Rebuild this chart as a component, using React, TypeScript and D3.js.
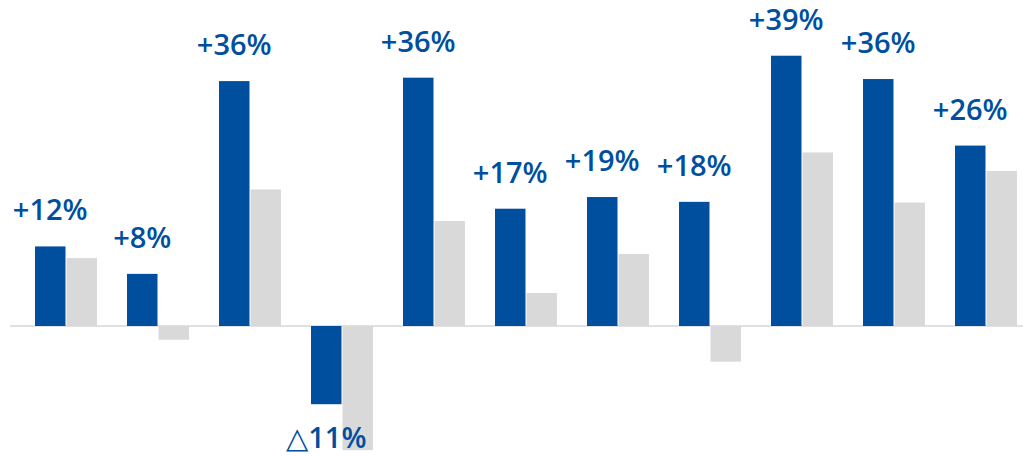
import React from 'react';
import * as d3 from 'd3';

const categories = ['A', 'B', 'C', 'D', 'E', 'F', 'G', 'H', 'I', 'J', 'K'];
const blueValues = [11.6, 7.6, 35.7, -11.4, 36.2, 17.1, 18.8, 18.1, 39.4, 36.0, 26.3];
const grayValues = [9.9, -2.0, 19.9, -18.1, 15.3, 4.8, 10.5, -5.2, 25.3, 18.0, 22.6];
const labels = ['+12%', '+8%', '+36%', '△11%', '+36%', '+17%', '+19%', '+18%', '+39%', '+36%', '+26%'];

const width = 1023;
const height = 456;
const BLUE = '#004f9f';
const GRAY = '#d9d9d9';

const App: React.FC = () => {
  const x = d3.scaleBand<string>()
    .domain(categories)
    .range([35, 1017])
    .paddingInner(30 / 92)
    .paddingOuter(0);

  const sub = d3.scaleBand<string>()
    .domain(['blue', 'gray'])
    .range([0, x.bandwidth()])
    .paddingInner(2 / 62);

  const y = d3.scaleLinear()
    .domain([-20, 40])
    .range([463.2, 51.6]);

  const y0 = y(0);

  return (
    <svg
      width={width}
      height={height}
      style={{ position: 'absolute', left: 0, top: 0, display: 'block', background: '#fff' }}
    >
      <line x1={10} x2={width} y1={y0} y2={y0} stroke="#e0e0e0" strokeWidth={2} />
      {categories.map((c, i) => {
        const bx = (x(c) ?? 0) + (sub('blue') ?? 0);
        const gx = (x(c) ?? 0) + (sub('gray') ?? 0);
        const bv = blueValues[i];
        const gv = grayValues[i];
        const by = y(bv);
        const gy = y(gv);
        const cx = bx + sub.bandwidth() / 2;
        const ly = bv >= 0 ? by - 26 : by + 44;
        const label = labels[i];
        // the triangle (negative sign) is drawn in a lighter weight
        const isNeg = label.startsWith('△');
        return (
          <g key={c}>
            <rect x={gx} y={Math.min(gy, y0)} width={sub.bandwidth()} height={Math.abs(gy - y0)} fill={GRAY} />
            <rect x={bx} y={Math.min(by, y0)} width={sub.bandwidth()} height={Math.abs(by - y0)} fill={BLUE} />
            <text
              x={cx}
              y={ly}
              textAnchor="middle"
              fill={BLUE}
              fontFamily="'Open Sans', 'Noto Sans', 'DejaVu Sans', sans-serif"
              fontWeight={600}
              fontSize={29}
            >
              {isNeg ? (
                <>
                  <tspan fontWeight={400}>△</tspan>
                  <tspan>{label.slice(1)}</tspan>
                </>
              ) : label}
            </text>
          </g>
        );
      })}
    </svg>
  );
};

export default App;
